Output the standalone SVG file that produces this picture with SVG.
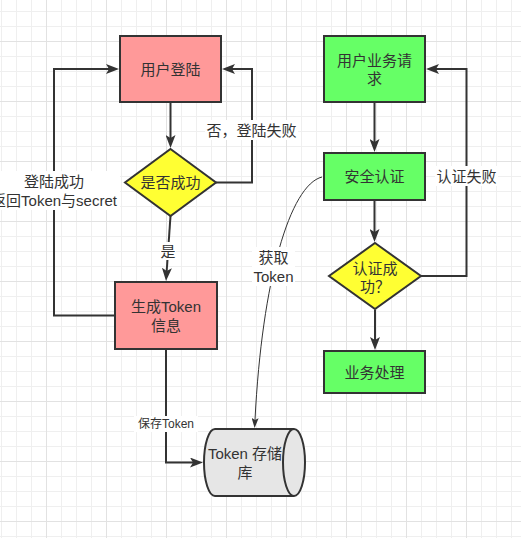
<svg xmlns="http://www.w3.org/2000/svg" width="521" height="538" viewBox="0 0 521 538">
<style>
.t{font-family:"Liberation Sans","Noto Sans CJK SC",sans-serif;font-size:15px;fill:#333333;text-anchor:middle;dominant-baseline:central}
.s{font-size:12px}
.box{stroke:#333333;stroke-width:2}
.ln{fill:none;stroke:#333333;stroke-width:2}
.thin{fill:none;stroke:#333333;stroke-width:1}
.bg{fill:#ffffff}
</style>
<defs>
<pattern id="gmin" patternUnits="userSpaceOnUse" x="1" y="11" width="15" height="15">
<rect x="0" y="0" width="1" height="15" fill="#efefef"/>
<rect x="0" y="0" width="15" height="1" fill="#efefef"/>
</pattern>
<pattern id="gmaj" patternUnits="userSpaceOnUse" x="46" y="41" width="60" height="60">
<rect x="0" y="0" width="1" height="60" fill="#e2e2e2"/>
<rect x="0" y="0" width="60" height="1" fill="#e2e2e2"/>
</pattern>
<marker id="arr" markerUnits="userSpaceOnUse" markerWidth="13" markerHeight="10" refX="3" refY="5" orient="auto">
<path d="M0,0 L13,5 L0,10 L3,5 Z" fill="#333333"/>
</marker>
<marker id="arrs" markerUnits="userSpaceOnUse" markerWidth="10" markerHeight="7" refX="2" refY="3.5" orient="auto">
<path d="M0,0 L10,3.5 L0,7 L2,3.5 Z" fill="#333333"/>
</marker>
</defs>
<rect width="521" height="538" fill="#ffffff"/>
<rect width="521" height="538" fill="url(#gmin)"/>
<rect width="521" height="538" fill="url(#gmaj)"/>

<g id="connectors">
<path class="ln" d="M170.5,103 V138" marker-end="url(#arr)"/>
<path class="ln" d="M216,182.5 H252 V69 H232" marker-end="url(#arr)"/>
<path class="ln" d="M170.5,216 L166.7,271" marker-end="url(#arr)"/>
<path class="ln" d="M114,315.5 H54 V69 H109" marker-end="url(#arr)"/>
<path class="ln" d="M166,350 V462.5 H193" marker-end="url(#arr)"/>
<path class="ln" d="M374.5,103 V142" marker-end="url(#arr)"/>
<path class="ln" d="M374.5,201 V232" marker-end="url(#arr)"/>
<path class="ln" d="M421,276 H466.5 V69 H436" marker-end="url(#arr)"/>
<path class="ln" d="M375,310 V340" marker-end="url(#arr)"/>
<path class="thin" d="M322,177 C290,185 262,280 255,420" marker-end="url(#arrs)"/>
<g id="labels">
<rect class="bg" x="205" y="120" width="93" height="20"/>
<text class="t" x="251.5" y="130">否，登陆失败</text>
<rect class="bg" x="160" y="242" width="16" height="18"/>
<text class="t" x="168" y="251">是</text>
<rect class="bg" x="-12" y="171" width="132" height="39"/>
<text class="t" x="54" y="181">登陆成功</text>
<text class="t" x="54" y="200">返回Token与secret</text>
<rect class="bg" x="134" y="416" width="64" height="16"/>
<text class="t s" x="166" y="424">保存Token</text>
<rect class="bg" x="435" y="166" width="63" height="20"/>
<text class="t" x="466.5" y="176">认证失败</text>
<rect class="bg" x="252" y="247" width="43" height="39"/>
<text class="t" x="273.5" y="257">获取</text>
<text class="t" x="273.5" y="276">Token</text>
</g>
</g>

<g id="login">
<rect class="box" x="120" y="36" width="101" height="66" fill="#ff9999"/>
<text class="t" x="170.5" y="69">用户登陆</text>
</g>
<g id="check-login">
<polygon class="box" points="170.5,149 216,182.5 170.5,216 125,182.5" fill="#ffff33"/>
<text class="t" x="170.5" y="182.5">是否成功</text>
</g>
<g id="gen-token">
<rect class="box" x="115" y="282" width="102" height="67" fill="#ff9999"/>
<text class="t" x="166" y="306">生成Token</text>
<text class="t" x="166" y="325">信息</text>
</g>
<g id="biz-request">
<rect class="box" x="324" y="36" width="101" height="66" fill="#66ff66"/>
<text class="t" x="374.5" y="60">用户业务请</text>
<text class="t" x="374.5" y="78">求</text>
</g>
<g id="auth">
<rect class="box" x="324" y="153" width="101" height="47" fill="#66ff66"/>
<text class="t" x="374.5" y="176.5">安全认证</text>
</g>
<g id="check-auth">
<polygon class="box" points="375,243 421,276 375,309 329,276" fill="#ffff33"/>
<text class="t" x="375" y="268">认证成</text>
<text class="t" x="375" y="286">功？</text>
</g>
<g id="biz-process">
<rect class="box" x="324" y="351" width="101" height="42" fill="#66ff66"/>
<text class="t" x="374.5" y="372">业务处理</text>
</g>
<g id="token-store">
<path class="box" d="M215,429 H294 A11,33.5 0 0 1 294,496 H215 A11,33.5 0 0 1 215,429 Z" fill="#e6e6e6"/>
<path class="box" d="M294,429 A11,33.5 0 0 0 294,496" fill="none"/>
<text class="t" x="245" y="453">Token 存储</text>
<text class="t" x="245" y="472">库</text>
</g>
</svg>
